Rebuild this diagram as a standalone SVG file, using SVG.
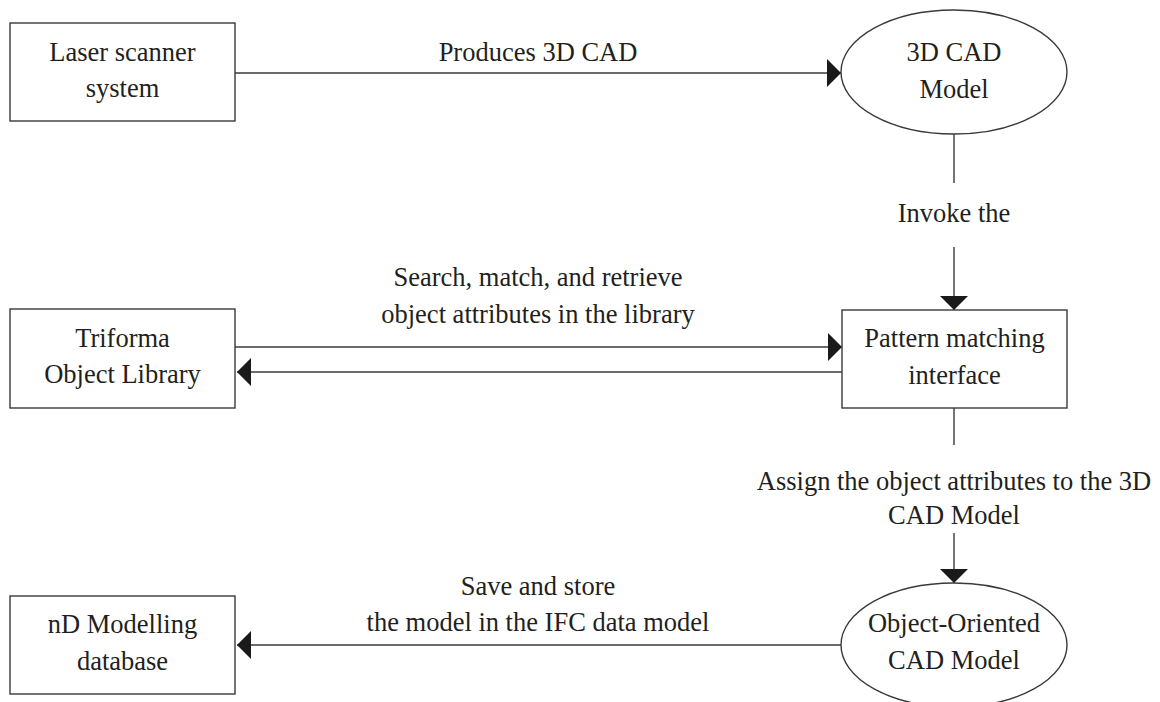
<svg xmlns="http://www.w3.org/2000/svg" width="1160" height="702" viewBox="0 0 1160 702">
<defs>
<style>
.box{fill:#fff;stroke:#3a3a3a;stroke-width:1.4}
.edge{fill:none;stroke:#3a3a3a;stroke-width:1.4}
text{font-family:"Liberation Serif","Times New Roman",serif;font-size:26.5px;fill:#231f20;text-anchor:middle}
</style>
<marker id="arr" markerUnits="userSpaceOnUse" markerWidth="14" markerHeight="28" refX="14" refY="14" orient="auto" viewBox="0 0 14 28">
<path d="M0,0 L14,14 L0,28 Z" fill="#1a1a1a"/>
</marker>
</defs>
<rect width="1160" height="702" fill="#fff"/>
<g id="connectors">
<line class="edge" x1="235" y1="73" x2="841" y2="73" marker-end="url(#arr)"/>
<text x="538" y="61">Produces 3D CAD</text>
<line class="edge" x1="954" y1="134" x2="954" y2="183"/>
<line class="edge" x1="954" y1="247" x2="954" y2="310" marker-end="url(#arr)"/>
<text x="954" y="222">Invoke the</text>
<line class="edge" x1="235" y1="347" x2="842" y2="347" marker-end="url(#arr)"/>
<line class="edge" x1="842" y1="372" x2="237" y2="372" marker-end="url(#arr)"/>
<text x="538" y="286">Search, match, and retrieve</text>
<text x="538" y="323">object attributes in the library</text>
<line class="edge" x1="954" y1="408" x2="954" y2="445"/>
<line class="edge" x1="954" y1="533" x2="954" y2="583" marker-end="url(#arr)"/>
<text x="954" y="490">Assign the object attributes to the 3D</text>
<text x="954" y="524">CAD Model</text>
<line class="edge" x1="841" y1="645" x2="237" y2="645" marker-end="url(#arr)"/>
<text x="538" y="595">Save and store</text>
<text x="538" y="631">the model in the IFC data model</text>
</g>
<g id="laser">
<rect class="box" x="10" y="23" width="225" height="98"/>
<text x="122.5" y="61">Laser scanner</text>
<text x="122.5" y="97">system</text>
</g>
<g id="cad3d">
<ellipse class="box" cx="954" cy="72" rx="113" ry="62"/>
<text x="954" y="61">3D CAD</text>
<text x="954" y="98">Model</text>
</g>
<g id="triforma">
<rect class="box" x="10" y="309" width="225" height="99"/>
<text x="122.5" y="347">Triforma</text>
<text x="122.5" y="383">Object Library</text>
</g>
<g id="pattern">
<rect class="box" x="842" y="310" width="225" height="98"/>
<text x="954.5" y="347">Pattern matching</text>
<text x="954.5" y="384">interface</text>
</g>
<g id="ndmodel">
<rect class="box" x="10" y="596" width="225" height="98"/>
<text x="122.5" y="633">nD Modelling</text>
<text x="122.5" y="670">database</text>
</g>
<g id="oocad">
<ellipse class="box" cx="954" cy="645" rx="113" ry="62"/>
<text x="954" y="632">Object-Oriented</text>
<text x="954" y="669">CAD Model</text>
</g>
</svg>
